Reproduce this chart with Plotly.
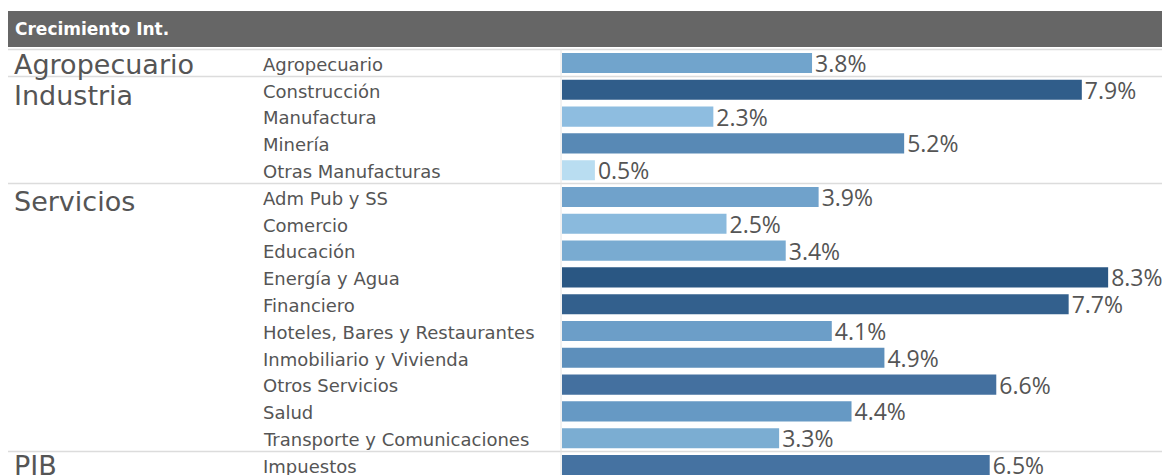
import plotly.graph_objects as go

groups = ["Agropecuario", "Industria", "Servicios", "PIB"]
group_sizes = [1, 4, 10, 1]
sectors = ["Agropecuario", "Construcción", "Manufactura", "Minería", "Otras Manufacturas",
           "Adm Pub y SS", "Comercio", "Educación", "Energía y Agua", "Financiero",
           "Hoteles, Bares y Restaurantes", "Inmobiliario y Vivienda", "Otros Servicios",
           "Salud", "Transporte y Comunicaciones", "Impuestos"]
values = [3.8, 7.9, 2.3, 5.2, 0.5, 3.9, 2.5, 3.4, 8.3, 7.7, 4.1, 4.9, 6.6, 4.4, 3.3, 6.5]
title = "Crecimiento Int."

# page body has an 8px margin; figure coords = screen coords - 8
W, H = 1162, 467
OFF = 8
FONT = "DejaVu Sans"
VFONT = "Open Sans"
TXT = "#555555"
PITCH = 26.8
ROW0 = 63 - OFF
BAR0 = 562 - OFF
PX_PER = 65.8

def yv(py):  # screen pixel -> y data
    return (py - OFF - ROW0) / PITCH

rows = list(range(len(sectors)))
vmin, vmax = min(values), max(values)
def t(v):
    return (v - vmin) / (vmax - vmin)
colorscale = [[0, "#b9ddf1"], [t(2.3), "#8ebde0"], [t(3.4), "#79abd1"], [t(4.4), "#6699c4"],
              [t(5.2), "#5889b5"], [t(6.6), "#44709f"], [1, "#2a5783"]]

fig = go.Figure(go.Bar(
    x=values, y=rows, orientation="h", width=0.75,
    marker=dict(color=values, colorscale=colorscale, cmin=vmin, cmax=vmax,
                line=dict(width=0)),
    text=[f"{v:.1f}%" for v in values], textposition="outside", constraintext="none",
    textfont=dict(size=23, color=TXT, family=VFONT), cliponaxis=False,
    hoverinfo="skip"))

fig.update_layout(
    width=W, height=H, margin=dict(l=0, r=0, t=0, b=0),
    paper_bgcolor="white", plot_bgcolor="white", showlegend=False,
    font=dict(family=FONT, color=TXT),
    xaxis=dict(domain=[BAR0 / W, 1], range=[0, (W - BAR0) / PX_PER], visible=False),
    yaxis=dict(domain=[0, 1], range=[(H - ROW0) / PITCH, -ROW0 / PITCH], visible=False),
)

shapes = []
shapes.append(dict(type="rect", xref="paper", yref="y", x0=0, x1=1,
                   y0=yv(11), y1=yv(47),
                   fillcolor="#666666", line=dict(width=0), layer="below"))
start = 0
seps = [-0.5]
for s in group_sizes[:-1]:
    start += s
    seps.append(start - 0.5)
for sy in seps:
    shapes.append(dict(type="line", xref="paper", yref="y", x0=0, x1=1, y0=sy, y1=sy,
                       line=dict(color="#dcdcdc", width=1.5), layer="below"))
shapes.append(dict(type="line", xref="paper", yref="y", x0=(BAR0 - 1) / W, x1=(BAR0 - 1) / W,
                   y0=-0.5, y1=(H - ROW0) / PITCH, line=dict(color="#e4e4e4", width=1), layer="below"))

annotations = []
annotations.append(dict(text=f"<b>{title}</b>", xref="paper", yref="y", x=(13 - OFF) / W, y=yv(29),
                        xanchor="left", yanchor="middle", showarrow=False,
                        font=dict(size=17, color="white", family=FONT)))
group_dy = [0.07, 0.22, 0.15, 0.0]
start = 0
for g, s, dy in zip(groups, group_sizes, group_dy):
    annotations.append(dict(text=g, xref="paper", yref="y", x=(12 - OFF) / W, y=start + dy,
                            xanchor="left", yanchor="middle", showarrow=False,
                            font=dict(size=27, color=TXT, family=FONT)))
    start += s
for i, name in enumerate(sectors):
    annotations.append(dict(text=name, xref="paper", yref="y", x=(261 - OFF) / W, y=i + 0.05,
                            xanchor="left", yanchor="middle", showarrow=False,
                            font=dict(size=18, color=TXT, family=FONT)))

fig.update_layout(shapes=shapes, annotations=annotations)
fig.write_html("out.html")
